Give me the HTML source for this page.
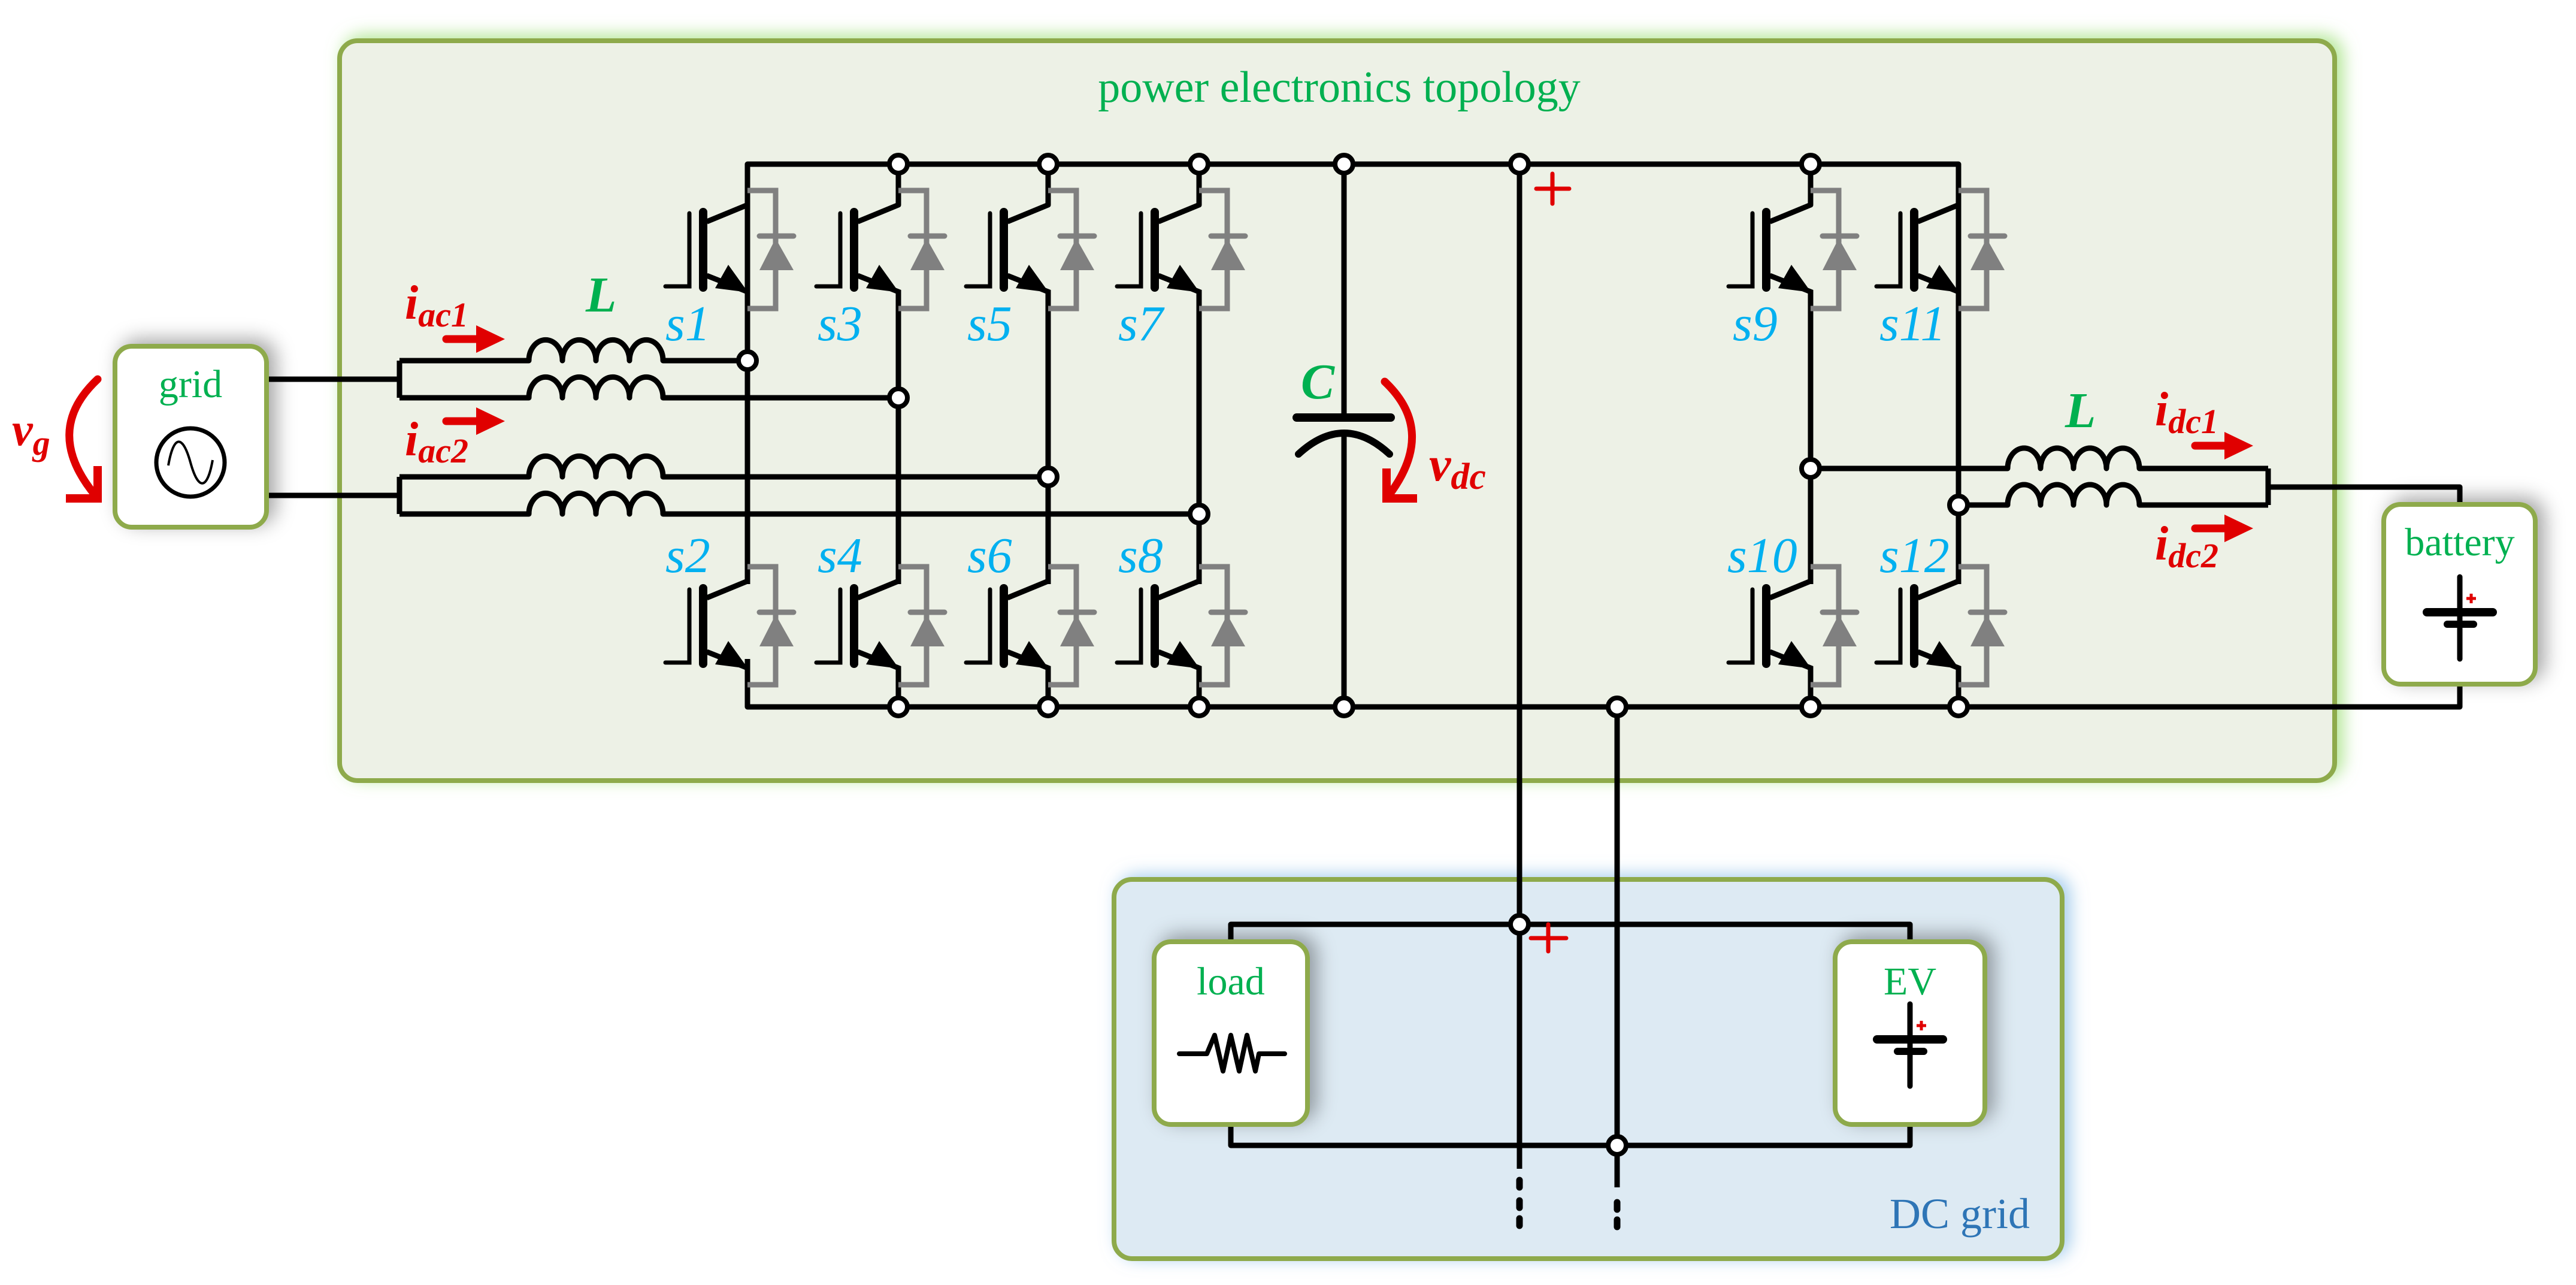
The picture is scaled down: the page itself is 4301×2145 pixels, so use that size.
<!DOCTYPE html>
<html><head><meta charset="utf-8">
<style>
html,body{margin:0;padding:0;background:#fff;}
svg{display:block;}
svg text{font-family:"Liberation Serif","Times New Roman",serif;}
</style></head>
<body>
<svg width="4301" height="2145" viewBox="0 0 4301 2145" xmlns="http://www.w3.org/2000/svg" font-family="Liberation Serif, serif">
<defs>
<filter id="glowG" x="-5%" y="-10%" width="110%" height="120%">
<feGaussianBlur in="SourceAlpha" stdDeviation="14"/>
<feOffset dx="10" dy="-6" result="b"/>
<feFlood flood-color="#9fe07a" flood-opacity="0.8"/>
<feComposite in2="b" operator="in"/>
<feMerge><feMergeNode/><feMergeNode in="SourceGraphic"/></feMerge>
</filter>
<filter id="glowB" x="-5%" y="-10%" width="110%" height="120%">
<feGaussianBlur in="SourceAlpha" stdDeviation="14"/>
<feOffset dx="10" dy="-4" result="b"/>
<feFlood flood-color="#8fc0e8" flood-opacity="0.8"/>
<feComposite in2="b" operator="in"/>
<feMerge><feMergeNode/><feMergeNode in="SourceGraphic"/></feMerge>
</filter>
<filter id="sh" x="-30%" y="-30%" width="160%" height="160%">
<feGaussianBlur in="SourceAlpha" stdDeviation="16"/>
<feOffset dx="12" dy="-8" result="b"/>
<feFlood flood-color="#000" flood-opacity="0.35"/>
<feComposite in2="b" operator="in"/>
<feMerge><feMergeNode/><feMergeNode in="SourceGraphic"/></feMerge>
</filter>
<g id="sw">
  <path d="M0,0 V68 L-68,96" fill="none" stroke="#000" stroke-width="9" stroke-linejoin="round"/>
  <line x1="-74" y1="80" x2="-74" y2="206" stroke="#000" stroke-width="14" stroke-linecap="round"/>
  <polyline points="-137,204 -97,204 -97,82" fill="none" stroke="#000" stroke-width="7" stroke-linecap="round"/>
  <path d="M-68,186 L0,213 V278" fill="none" stroke="#000" stroke-width="9"/>
  <polygon points="1,214 -32,168 -54,207" fill="#000"/>
  <path d="M0,44 H47 V241 H0" fill="none" stroke="#808080" stroke-width="9"/>
  <line x1="20" y1="120" x2="77" y2="120" stroke="#808080" stroke-width="9" stroke-linecap="round"/>
  <polygon points="47,124 20,177 77,177" fill="#808080"/>
</g>
<g id="nd"><circle r="15" fill="#fff" stroke="#000" stroke-width="8"/></g>
</defs>

<rect x="567" y="68" width="3331" height="1235" rx="30" fill="#edf1e6" stroke="#8eaa4c" stroke-width="8" filter="url(#glowG)"/>
<text x="2236" y="170" font-size="74" fill="#00b050" text-anchor="middle" font-family="Liberation Serif, serif">power electronics topology</text>

<rect x="1860" y="1468" width="1583" height="633" rx="30" fill="#ddeaf3" stroke="#8eaa4c" stroke-width="8" filter="url(#glowB)"/>
<text x="3155" y="2050" font-size="72" fill="#2e75b6" font-family="Liberation Serif, serif">DC grid</text>

<g fill="none" stroke="#000" stroke-width="9" stroke-linejoin="round">
<polyline points="1248,487 1248,274 3270,274 3270,487"/>
<polyline points="1248,1100 1248,1180 4107,1180 4107,1142"/>
<line x1="1248" y1="487" x2="1248" y2="975"/>
<line x1="1500" y1="487" x2="1500" y2="975"/>
<line x1="1750" y1="487" x2="1750" y2="975"/>
<line x1="2002" y1="487" x2="2002" y2="975"/>
<line x1="3023" y1="487" x2="3023" y2="975"/>
<line x1="3270" y1="487" x2="3270" y2="975"/>
<path d="M445,633 H667 M667,602 V664"/>
<path d="M445,827 H667 M667,796 V858"/>
<path d="M667,602 H883 a27.5,34 0 0 1 56,0 a27.5,34 0 0 1 56,0 a27.5,34 0 0 1 56,0 a27.5,34 0 0 1 56,0 H1248"/>
<path d="M667,664 H883 a27.5,34 0 0 1 56,0 a27.5,34 0 0 1 56,0 a27.5,34 0 0 1 56,0 a27.5,34 0 0 1 56,0 H1500"/>
<path d="M667,796 H883 a27.5,34 0 0 1 56,0 a27.5,34 0 0 1 56,0 a27.5,34 0 0 1 56,0 a27.5,34 0 0 1 56,0 H1750"/>
<path d="M667,858 H883 a27.5,34 0 0 1 56,0 a27.5,34 0 0 1 56,0 a27.5,34 0 0 1 56,0 a27.5,34 0 0 1 56,0 H2002"/>
<path d="M3023,782 H3352 a27.5,34 0 0 1 55,0 a27.5,34 0 0 1 55,0 a27.5,34 0 0 1 55,0 a27.5,34 0 0 1 55,0 H3787"/>
<path d="M3270,843 H3352 a27.5,34 0 0 1 55,0 a27.5,34 0 0 1 55,0 a27.5,34 0 0 1 55,0 a27.5,34 0 0 1 55,0 H3787"/>
<path d="M3787,782 V843 M3787,813 H4107 V842"/>
<line x1="2244" y1="274" x2="2244" y2="697"/>
<line x1="2244" y1="723" x2="2244" y2="1180"/>
<line x1="2537" y1="274" x2="2537" y2="1951"/>
<line x1="2700" y1="1180" x2="2700" y2="1982"/>
<path d="M2055,1572 V1543 H3189 V1572"/>
<path d="M2055,1877 V1912 H3189 V1877"/>
</g>
<line x1="2165" y1="697" x2="2322" y2="697" stroke="#000" stroke-width="14" stroke-linecap="round"/>
<path d="M2168,758 Q2244,688 2320,758" fill="none" stroke="#000" stroke-width="12" stroke-linecap="round"/>
<g stroke="#000" stroke-width="11" stroke-linecap="round">
<line x1="2537" y1="1970" x2="2537" y2="1982"/><line x1="2537" y1="2004" x2="2537" y2="2016"/><line x1="2537" y1="2034" x2="2537" y2="2046"/>
<line x1="2700" y1="2007" x2="2700" y2="2019"/><line x1="2700" y1="2036" x2="2700" y2="2048"/>
</g>

<use href="#sw" x="1248" y="274"/><use href="#sw" x="1500" y="274"/><use href="#sw" x="1750" y="274"/><use href="#sw" x="2002" y="274"/>
<use href="#sw" x="3023" y="274"/><use href="#sw" x="3270" y="274"/>
<use href="#sw" x="1248" y="902"/><use href="#sw" x="1500" y="902"/><use href="#sw" x="1750" y="902"/><use href="#sw" x="2002" y="902"/>
<use href="#sw" x="3023" y="902"/><use href="#sw" x="3270" y="902"/>

<use href="#nd" x="1500" y="274"/><use href="#nd" x="1750" y="274"/><use href="#nd" x="2002" y="274"/><use href="#nd" x="2244" y="274"/><use href="#nd" x="2537" y="274"/><use href="#nd" x="3023" y="274"/>
<use href="#nd" x="1500" y="1180"/><use href="#nd" x="1750" y="1180"/><use href="#nd" x="2002" y="1180"/><use href="#nd" x="2244" y="1180"/><use href="#nd" x="2700" y="1180"/><use href="#nd" x="3023" y="1180"/><use href="#nd" x="3270" y="1180"/>
<use href="#nd" x="1248" y="602"/><use href="#nd" x="1500" y="664"/><use href="#nd" x="1750" y="796"/><use href="#nd" x="2002" y="858"/>
<use href="#nd" x="3023" y="782"/><use href="#nd" x="3270" y="843"/>
<use href="#nd" x="2537" y="1543"/><use href="#nd" x="2700" y="1912"/>

<g font-size="84" font-style="italic" fill="#00b0f0" font-family="Liberation Serif, serif">
<text x="1111" y="568">s1</text><text x="1365" y="568">s3</text><text x="1615" y="568">s5</text><text x="1867" y="568">s7</text>
<text x="1111" y="955">s2</text><text x="1365" y="955">s4</text><text x="1615" y="955">s6</text><text x="1867" y="955">s8</text>
<text x="2893" y="568">s9</text><text x="3138" y="568">s11</text>
<text x="2884" y="955">s10</text><text x="3138" y="955">s12</text>
</g>

<g font-size="84" font-style="italic" font-weight="bold" fill="#00b050" font-family="Liberation Serif, serif">
<text x="978" y="520">L</text>
<text x="3448" y="713">L</text>
<text x="2172" y="665">C</text>
</g>

<g fill="#e00000" font-weight="bold" font-style="italic" font-family="Liberation Serif, serif">
<text x="676" y="532" font-size="80">i<tspan font-size="58" dy="13">ac1</tspan></text>
<text x="676" y="760" font-size="80">i<tspan font-size="58" dy="12">ac2</tspan></text>
<text x="3598" y="710" font-size="80">i<tspan font-size="58" dy="13">dc1</tspan></text>
<text x="3598" y="934" font-size="80">i<tspan font-size="58" dy="13">dc2</tspan></text>
<text x="2386" y="802" font-size="82">v<tspan font-size="62" dy="14">dc</tspan></text>
<text x="20" y="743" font-size="78">v<tspan font-size="58" dy="16">g</tspan></text>
</g>
<g stroke="#e00000" stroke-width="13" fill="none" stroke-linecap="round">
<line x1="745" y1="566" x2="810" y2="566"/>
<line x1="745" y1="703" x2="810" y2="703"/>
<line x1="3665" y1="744" x2="3730" y2="744"/>
<line x1="3665" y1="882" x2="3730" y2="882"/>
<path d="M2312,637 Q2400,720 2318,828"/>
<polyline points="2315,782 2315,832 2366,832" stroke-linejoin="miter" stroke-linecap="butt" stroke-width="14"/>
<path d="M163,633 Q70,720 160,828"/>
<polyline points="163,778 163,832 110,832" stroke-linejoin="miter" stroke-linecap="butt" stroke-width="14"/>
</g>
<g fill="#e00000">
<polygon points="843,566 795,543 795,589"/>
<polygon points="843,703 795,680 795,726"/>
<polygon points="3762,744 3714,721 3714,767"/>
<polygon points="3762,882 3714,859 3714,905"/>
</g>
<g stroke="#e00000" stroke-width="7" stroke-linecap="round">
<line x1="2565" y1="315" x2="2620" y2="315"/><line x1="2592" y1="290" x2="2592" y2="340"/>
<line x1="2556" y1="1566" x2="2615" y2="1566"/><line x1="2585" y1="1543" x2="2585" y2="1588"/>
</g>

<rect x="192" y="578" width="253" height="302" rx="28" fill="#fff" stroke="#8eaa4c" stroke-width="8" filter="url(#sh)"/>
<text x="318" y="663" font-size="66" fill="#00b050" text-anchor="middle" font-family="Liberation Serif, serif">grid</text>
<circle cx="318" cy="772" r="57" fill="none" stroke="#000" stroke-width="7"/>
<path d="M281,777 C290,725 305,725 318,772 C331,819 346,819 355,768" fill="none" stroke="#000" stroke-width="4"/>

<rect x="3980" y="842" width="253" height="300" rx="28" fill="#fff" stroke="#8eaa4c" stroke-width="8" filter="url(#sh)"/>
<text x="4107" y="927" font-size="66" fill="#00b050" text-anchor="middle" font-family="Liberation Serif, serif">battery</text>
<g stroke="#000" stroke-linecap="round">
<line x1="4107" y1="963" x2="4107" y2="1100" stroke-width="9"/>
<line x1="4052" y1="1022" x2="4162" y2="1022" stroke-width="14"/>
<line x1="4086" y1="1042" x2="4130" y2="1042" stroke-width="12"/>
</g>
<g stroke="#e00000" stroke-width="5"><line x1="4118" y1="999" x2="4134" y2="999"/><line x1="4126" y1="991" x2="4126" y2="1007"/></g>

<rect x="1927" y="1572" width="256" height="305" rx="28" fill="#fff" stroke="#8eaa4c" stroke-width="8" filter="url(#sh)"/>
<text x="2055" y="1660" font-size="66" fill="#00b050" text-anchor="middle" font-family="Liberation Serif, serif">load</text>
<polyline points="1969,1759 2015,1759 2028,1728 2042,1788 2055,1728 2069,1788 2082,1728 2096,1788 2102,1759 2145,1759" fill="none" stroke="#000" stroke-width="8" stroke-linejoin="round" stroke-linecap="round"/>

<rect x="3064" y="1572" width="250" height="305" rx="28" fill="#fff" stroke="#8eaa4c" stroke-width="8" filter="url(#sh)"/>
<text x="3189" y="1660" font-size="66" fill="#00b050" text-anchor="middle" font-family="Liberation Serif, serif">EV</text>
<g stroke="#000" stroke-linecap="round">
<line x1="3189" y1="1676" x2="3189" y2="1813" stroke-width="9"/>
<line x1="3134" y1="1735" x2="3244" y2="1735" stroke-width="14"/>
<line x1="3168" y1="1755" x2="3212" y2="1755" stroke-width="12"/>
</g>
<g stroke="#e00000" stroke-width="5"><line x1="3200" y1="1712" x2="3216" y2="1712"/><line x1="3208" y1="1704" x2="3208" y2="1720"/></g>
</svg>
</body></html>
